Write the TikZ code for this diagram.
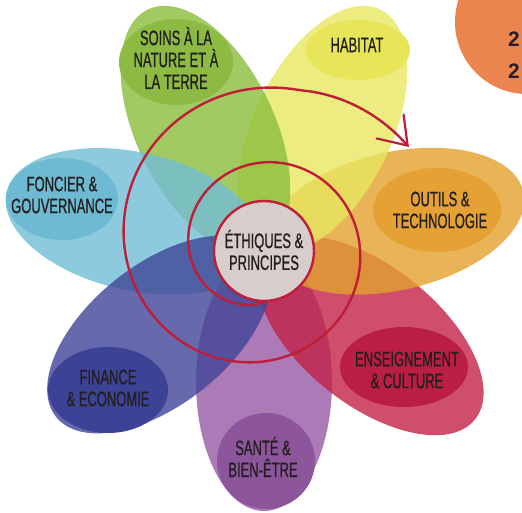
\documentclass[tikz,border=0pt]{standalone}
\usepackage{fontspec}
\setmainfont{Liberation Sans}[FakeStretch=0.62, FakeBold=0.7]
\newfontfamily\digitfont{Liberation Sans}
\usepackage{tikz}
\usetikzlibrary{shapes.geometric}

\definecolor{greenP}{RGB}{139,189,59}
\definecolor{greenL}{RGB}{140,186,66}
\definecolor{yellowP}{RGB}{231,231,96}
\definecolor{yellowL}{RGB}{231,229,88}
\definecolor{orangeP}{RGB}{228,161,46}
\definecolor{orangeL}{RGB}{229,161,52}
\definecolor{redP}{RGB}{194,34,71}
\definecolor{redL}{RGB}{186,30,66}
\definecolor{purpleP}{RGB}{151,89,164}
\definecolor{purpleL}{RGB}{141,86,156}
\definecolor{blueP}{RGB}{64,69,151}
\definecolor{blueL}{RGB}{60,66,150}
\definecolor{skyP}{RGB}{114,189,214}
\definecolor{skyL}{RGB}{110,186,210}
\definecolor{spiralred}{RGB}{190,30,55}
\definecolor{coreFill}{RGB}{215,205,203}
\definecolor{badgeOrange}{RGB}{236,132,80}
\definecolor{inkGray}{RGB}{35,31,32}

\begin{document}
\begin{tikzpicture}[x=1bp, y=1bp,
  petal/.style={fill opacity=0.8},
  lbl/.style={align=center, text=inkGray, inner sep=0pt, font=\fontsize{21}{22}\selectfont},
  spiral/.style={draw=spiralred, line width=2.4bp, line cap=round},
  barb/.style={draw=spiralred, line width=2.2bp, line cap=round, line join=miter},
  num/.style={text=inkGray, font=\digitfont\bfseries\fontsize{21}{22}\selectfont}]
\useasboundingbox (-264,-262) rectangle (258,251);
\clip (-264,-262) rectangle (258,251);

\fill[petal, fill=purpleP, rotate=-90] (131,0) ellipse [x radius=129, y radius=68];
\fill[petal, fill=redP, rotate=-38.57] (136,0) ellipse [x radius=134, y radius=69];
\fill[petal, fill=orangeP, rotate=12.86] (134,0) ellipse [x radius=132, y radius=69];
\fill[petal, fill=yellowP, rotate=64.29] (135,0) ellipse [x radius=133, y radius=69];
\fill[petal, fill=greenP, rotate=115.71] (135,0) ellipse [x radius=133, y radius=69];
\fill[petal, fill=skyP, rotate=167.14] (133,0) ellipse [x radius=131, y radius=69];
\fill[petal, fill=blueP, rotate=-141.43] (134,0) ellipse [x radius=132, y radius=70];

\fill[greenL] (-88,189) ellipse [x radius=57, y radius=43];
\fill[yellowL] (94,201) ellipse [x radius=52, y radius=30];
\fill[orangeL] (173,41) ellipse [x radius=64, y radius=42];
\fill[redL] (140,-116) ellipse [x radius=64, y radius=40];
\fill[purpleL] (2,-210) ellipse [x radius=49, y radius=48];
\fill[blueL] (-156,-139) ellipse [x radius=60, y radius=43];
\fill[skyL] (-202,52) ellipse [x radius=56, y radius=41];

\node[lbl] (soins) at (-88,193) {SOINS À LA\\NATURE ET À\\LA TERRE};
\node[lbl] (habitat) at (93,206) {HABITAT};
\node[lbl] (outils) at (176,41) {OUTILS \&\\TECHNOLOGIE};
\node[lbl] (enseignement) at (143,-119) {ENSEIGNEMENT\\\& CULTURE};
\node[lbl] (sante) at (-1,-206) {SANTÉ \&\\BIEN-ÊTRE};
\node[lbl] (finance) at (-156,-137) {FINANCE\\\& ECONOMIE};
\node[lbl] (foncier) at (-202,56) {FONCIER \&\\GOUVERNANCE};

\draw[spiral] plot[domain=-10:598, samples=160, smooth]
  ({-7+0.0041*\x+(51.75+0.1847*\x+0.29*max(\x-555,0))*cos(-90-\x)},
   {-1.25+0.0236*\x+(51.75+0.1847*\x+0.29*max(\x-555,0))*sin(-90-\x)});
\coordinate (tip) at (143.6,105.5);
\draw[barb] (tip) ++(-4,31) -- (tip) -- ++(-31,7);
\node[circle, draw=spiralred, line width=2.4bp, fill=coreFill, minimum size=100bp, inner sep=0pt] (ethiques) at (0,0) {};
\node[lbl] (ethiquesText) at (0,1) {ÉTHIQUES \&\\PRINCIPES};

\fill[badgeOrange] (263,229) circle [radius=72];
\node[num] (numA) at (250,212) {2};
\node[num] (numB) at (250,180) {2};
\end{tikzpicture}
\end{document}
